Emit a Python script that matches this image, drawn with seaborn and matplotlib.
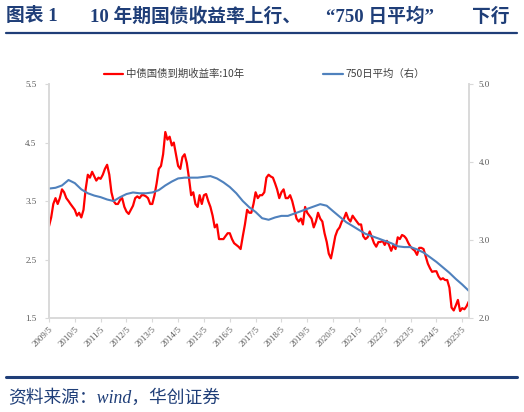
import matplotlib
matplotlib.use("Agg")
from matplotlib import pyplot as plt
from matplotlib.lines import Line2D
import pandas as pd
import seaborn as sns

# 中债国债到期收益率:10年, 月度 2009/5 - 2025/8
yield_10y = [
    3.07, 3.22, 3.45, 3.55, 3.45, 3.55, 3.70, 3.65,
    3.55, 3.50, 3.45, 3.40, 3.35, 3.25, 3.30, 3.22, 3.35, 3.70, 3.95, 3.90,
    4.00, 3.92, 3.85, 3.90, 3.88, 3.95, 4.05, 4.12, 3.95, 3.65, 3.50, 3.45,
    3.45, 3.52, 3.55, 3.40, 3.32, 3.28, 3.35, 3.42, 3.55, 3.58, 3.55, 3.60,
    3.60, 3.58, 3.55, 3.45, 3.45, 3.60, 3.80, 4.05, 4.10, 4.30, 4.68, 4.55,
    4.60, 4.45, 4.50, 4.30, 4.10, 4.05, 4.25, 4.30, 4.15, 3.90, 3.60, 3.65,
    3.45, 3.40, 3.60, 3.45, 3.60, 3.62, 3.50, 3.40, 3.25, 3.05, 3.10, 2.85,
    2.85, 2.85, 2.90, 2.95, 2.95, 2.85, 2.78, 2.75, 2.72, 2.68, 2.90, 3.10,
    3.35, 3.30, 3.30, 3.45, 3.65, 3.55, 3.60, 3.60, 3.65, 3.90, 3.95, 3.92,
    3.90, 3.80, 3.70, 3.55, 3.65, 3.70, 3.55, 3.55, 3.60, 3.50, 3.35, 3.20,
    3.15, 3.20, 3.10, 3.40, 3.30, 3.25, 3.20, 3.05, 3.15, 3.30, 3.20, 3.15,
    2.95, 2.80, 2.60, 2.52, 2.70, 2.90, 3.00, 3.05, 3.15, 3.20, 3.30, 3.20,
    3.15, 3.25, 3.20, 3.15, 3.10, 3.10, 2.90, 2.85, 2.88, 2.98, 2.88, 2.78,
    2.72, 2.80, 2.80, 2.82, 2.75, 2.82, 2.75, 2.65, 2.75, 2.68, 2.88, 2.85,
    2.92, 2.90, 2.86, 2.78, 2.72, 2.68, 2.65, 2.58, 2.70, 2.70, 2.68, 2.56,
    2.43, 2.35, 2.29, 2.30, 2.30, 2.21, 2.16, 2.18, 2.15, 2.15, 2.02, 1.68,
    1.63, 1.72, 1.81, 1.62, 1.67, 1.65, 1.70, 1.78,
]
months = pd.date_range("2009-05-01", periods=len(yield_10y), freq="MS")

# 750日平均（右轴）, 每季度读数
ma750 = [
    3.66, 3.67, 3.70, 3.77, 3.73, 3.65, 3.60, 3.57, 3.55, 3.52, 3.50, 3.55,
    3.59, 3.61, 3.60, 3.60, 3.61, 3.64, 3.70, 3.75, 3.79, 3.80, 3.80, 3.80,
    3.81, 3.82, 3.79, 3.74, 3.68, 3.60, 3.50, 3.42, 3.36, 3.28, 3.26, 3.29,
    3.31, 3.31, 3.34, 3.37, 3.40, 3.43, 3.46, 3.44, 3.37, 3.30, 3.23, 3.18,
    3.13, 3.08, 3.05, 3.02, 2.99, 2.96, 2.92, 2.91, 2.91, 2.88, 2.84, 2.78,
    2.72, 2.65, 2.58, 2.50, 2.43, 2.35,
]
quarters = pd.date_range("2009-05-01", periods=len(ma750), freq="3MS")

tick_years = list(range(2009, 2026))
tick_labels = [f"{y}/5" for y in tick_years]

title_parts = ["图表 1", "10 年期国债收益率上行、", "“750 日平均”", "下行"]
title_x = [6, 90, 326, 472]

navy = "#1F3E78"
grey = "#D9D9D9"
serif = ["Liberation Serif", "Noto Sans CJK SC"]

sns.set_style("white")
plt.rcParams["font.family"] = ["Noto Sans CJK SC", "DejaVu Sans"]

W, H = 524, 412
fig = plt.figure(figsize=(W / 100, H / 100), dpi=100)
ax = fig.add_axes([0.0935, 0.228, 0.801, 0.568])
ax2 = ax.twinx()

df1 = pd.DataFrame({"date": months, "val": yield_10y})
df2 = pd.DataFrame({"date": quarters, "val": ma750})
sns.lineplot(data=df1, x="date", y="val", ax=ax, color="#FF0000", lw=1.6)
sns.lineplot(data=df2, x="date", y="val", ax=ax2, color="#4F81BD", lw=1.5)

ax.set_ylim(1.5, 5.5)
ax.set_yticks([1.5, 2.5, 3.5, 4.5, 5.5])
ax2.set_ylim(2.0, 5.0)
ax2.set_yticks([2.0, 3.0, 4.0, 5.0])
ax.set_xlim(months[0], months[-1])
ax.set_xticks([pd.Timestamp(f"{y}-05-01") for y in tick_years])
ax.set_xticklabels(tick_labels, rotation=45, ha="right", rotation_mode="anchor")
ax.set_xlabel("")
ax.set_ylabel("")
ax2.set_ylabel("")

for a in (ax, ax2):
    a.spines["top"].set_visible(False)
    for s in ("left", "right", "bottom"):
        a.spines[s].set_color(grey)
        a.spines[s].set_linewidth(1.2)
    a.tick_params(labelsize=6.5, colors="#595959", length=3, width=0.8,
                  color=grey, pad=2)
    for lab in a.get_xticklabels() + a.get_yticklabels():
        lab.set_family(serif)
ax.tick_params(axis="y", left=True, pad=6)
ax.tick_params(axis="x", bottom=True)
ax2.tick_params(axis="y", right=True, pad=4)
ax.yaxis.set_major_formatter(matplotlib.ticker.FormatStrFormatter("%.1f"))
ax2.yaxis.set_major_formatter(matplotlib.ticker.FormatStrFormatter("%.1f"))

handles = [Line2D([], [], color="#FF0000", lw=1.6),
           Line2D([], [], color="#4F81BD", lw=1.6)]
fig.legend(handles, ["中债国债到期收益率:10年", "750日平均（右）"],
           loc="center left", bbox_to_anchor=(0.18, 0.82), ncol=2,
           frameon=False, fontsize=7.5, handlelength=1.9, handletextpad=0.25,
           columnspacing=7.6, labelcolor="#404040")

for part, px in zip(title_parts, title_x):
    fig.text(px / W, 0.96, part, fontsize=13.5, weight="bold", color=navy,
             family=serif, va="center")
fig.add_artist(Line2D([0.012, 0.987], [0.921, 0.921], color=navy, lw=1.6))
fig.add_artist(Line2D([0.012, 0.987], [0.085, 0.085], color=navy, lw=2.2))
fig.text(0.015, 0.034, "资料来源：wind，华创证券", fontsize=12.8, style="italic",
         color=navy, family=serif, va="center")

fig.savefig("out.png", dpi=100)
